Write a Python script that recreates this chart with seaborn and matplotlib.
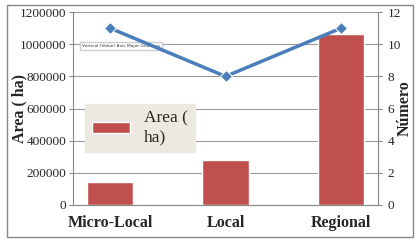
import numpy as np
import pandas as pd
import matplotlib
matplotlib.use('Agg')
import matplotlib.pyplot as plt
import matplotlib.ticker as mticker
import seaborn as sns
from matplotlib.patches import Rectangle

categories = ['Micro-Local', 'Local', 'Regional']
area_ha = [142000, 280000, 1063000]
numero = [11, 8, 11]

sns.set_style('white')
plt.rcParams['font.family'] = ['Liberation Serif', 'DejaVu Serif']

df = pd.DataFrame({'cat': categories, 'area': area_ha, 'num': numero})

fig = plt.figure(figsize=(4.2, 2.42), dpi=100)
ax = fig.add_axes([0.174, 0.153, 0.726, 0.797])

sns.barplot(data=df, x='cat', y='area', color='#c0504d', width=0.4,
            saturation=1, ax=ax, label='Area (\nha)', zorder=2)
ax.set_ylim(0, 1200000)
ax.set_yticks(np.arange(0, 1200001, 200000))
ax.yaxis.set_major_formatter(mticker.FuncFormatter(lambda v, p: f'{int(v)}'))
ax.yaxis.grid(True, color='#9a9a9a', linewidth=0.8, zorder=0)
ax.set_axisbelow(True)
for s in ['top', 'right']:
    ax.spines[s].set_visible(False)
for s in ['left', 'bottom']:
    ax.spines[s].set_color('#888888')
ax.tick_params(axis='y', labelsize=9.5, length=3, color='#888888', pad=2)
ax.tick_params(axis='x', labelsize=11.5, length=0, pad=7)
for t in ax.get_xticklabels():
    t.set_fontweight('bold')
ax.set_xlabel('')
ax.set_ylabel('Area ( ha)', fontsize=11.5, fontweight='bold')
ax.yaxis.set_label_coords(-0.15, 0.5)

ax2 = ax.twinx()
sns.lineplot(data=df, x='cat', y='num', color='#4a7ebb', linewidth=2.5,
             marker='D', markersize=6, ax=ax2, zorder=3)
ax2.set_ylim(0, 12)
ax2.set_yticks(np.arange(0, 13, 2))
for s in ['top', 'left', 'bottom']:
    ax2.spines[s].set_visible(False)
ax2.spines['right'].set_color('#888888')
ax2.tick_params(axis='y', labelsize=9.5, length=3, color='#888888', pad=4)
ax2.set_ylabel('Número', fontsize=11.5, fontweight='bold')
ax2.yaxis.set_label_coords(1.06, 0.5)
ax2.set_xlabel('')

leg = ax.legend(loc='upper left', bbox_to_anchor=(0.01, 0.57), fontsize=12.5,
                frameon=True, fancybox=False, facecolor='#ece9e0',
                edgecolor='#ece9e0', framealpha=1, handlelength=2.2,
                handleheight=0.6, borderpad=0.4)

ax.text(0.03, 0.82, 'Vertical (Value) Axis Major Gridlines', transform=ax.transAxes,
        fontsize=3.2, family='DejaVu Sans', color='#333333',
        bbox=dict(facecolor='white', edgecolor='#cccccc', pad=1.5), zorder=5)

fig.patches.append(Rectangle((0.017, 0.02), 0.966, 0.96, transform=fig.transFigure,
                             fill=False, edgecolor='#888888', linewidth=1))

fig.savefig('out.png', dpi=100)
